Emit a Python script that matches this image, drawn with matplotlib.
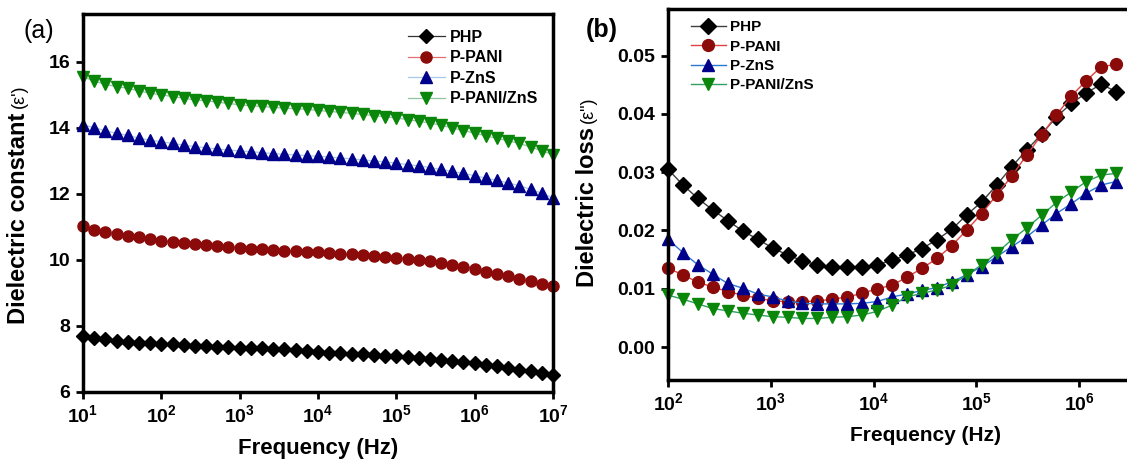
import numpy as np
import matplotlib
matplotlib.use("Agg")
import matplotlib.pyplot as plt

plt.rcParams['font.family'] = ['Liberation Sans', 'DejaVu Sans']
plt.rcParams['font.weight'] = 'bold'
plt.rcParams['mathtext.fontset'] = 'custom'
plt.rcParams['mathtext.rm'] = 'Liberation Sans:bold'
plt.rcParams['mathtext.it'] = 'Liberation Sans:bold'
plt.rcParams['mathtext.bf'] = 'Liberation Sans:bold'
plt.rcParams['mathtext.default'] = 'rm'

# ---- data (a): dielectric constant, 43 points 10 Hz .. 10 MHz
freq_a = np.logspace(1, 7, 43)
php_a = [7.70, 7.65, 7.60, 7.55, 7.52, 7.49, 7.47, 7.45, 7.44, 7.42, 7.40, 7.39, 7.37, 7.35,
         7.34, 7.33, 7.32, 7.30, 7.29, 7.27, 7.23, 7.21, 7.19, 7.17, 7.15, 7.14, 7.12, 7.10,
         7.08, 7.06, 7.03, 7.00, 6.97, 6.94, 6.91, 6.88, 6.83, 6.78, 6.73, 6.68, 6.63, 6.59, 6.53]
ppani_a = [11.03, 10.91, 10.84, 10.79, 10.73, 10.68, 10.63, 10.58, 10.55, 10.51, 10.48, 10.45,
           10.43, 10.40, 10.37, 10.34, 10.32, 10.30, 10.28, 10.26, 10.25, 10.23, 10.21, 10.19,
           10.17, 10.15, 10.12, 10.09, 10.07, 10.04, 10.00, 9.96, 9.91, 9.86, 9.80, 9.73, 9.65,
           9.57, 9.50, 9.42, 9.35, 9.28, 9.21]
pzns_a = [14.09, 14.01, 13.91, 13.84, 13.77, 13.69, 13.63, 13.58, 13.53, 13.48, 13.43, 13.40,
          13.36, 13.33, 13.30, 13.28, 13.25, 13.22, 13.20, 13.18, 13.16, 13.14, 13.12, 13.09,
          13.06, 13.03, 13.00, 12.97, 12.93, 12.89, 12.85, 12.80, 12.74, 12.68, 12.62, 12.55,
          12.48, 12.41, 12.33, 12.25, 12.14, 12.02, 11.88]
ppanizns_a = [15.55, 15.42, 15.32, 15.25, 15.20, 15.12, 15.05, 15.00, 14.95, 14.90, 14.85,
              14.82, 14.78, 14.74, 14.70, 14.67, 14.65, 14.62, 14.60, 14.58, 14.56, 14.53,
              14.50, 14.47, 14.44, 14.41, 14.37, 14.34, 14.30, 14.25, 14.20, 14.15, 14.08,
              14.00, 13.92, 13.84, 13.76, 13.68, 13.61, 13.53, 13.42, 13.31, 13.18]

# ---- data (b): dielectric loss, 31 points from 100 Hz
freq_b = np.logspace(2, 6.36, 31)
php_b = [0.0305, 0.0278, 0.0255, 0.0235, 0.0217, 0.0199, 0.0185, 0.0170, 0.0158, 0.0148,
         0.0141, 0.0138, 0.0137, 0.0138, 0.0141, 0.0149, 0.0158, 0.0169, 0.0184, 0.0202,
         0.0227, 0.0249, 0.0278, 0.0309, 0.0338, 0.0365, 0.0395, 0.0418, 0.0436, 0.0451, 0.0438]
ppani_b = [0.0135, 0.0124, 0.0111, 0.0103, 0.0095, 0.0089, 0.0084, 0.0079, 0.0078, 0.0078,
           0.0079, 0.0082, 0.0086, 0.0092, 0.0100, 0.0106, 0.0120, 0.0135, 0.0152, 0.0174,
           0.0201, 0.0229, 0.0261, 0.0293, 0.0329, 0.0364, 0.0398, 0.0431, 0.0457, 0.0481, 0.0485]
pzns_b = [0.0185, 0.0162, 0.0141, 0.0125, 0.0109, 0.0101, 0.0091, 0.0086, 0.0079, 0.0075,
          0.0074, 0.0074, 0.0074, 0.0075, 0.0078, 0.0086, 0.0091, 0.0097, 0.0102, 0.0112,
          0.0124, 0.0138, 0.0155, 0.0172, 0.0189, 0.0209, 0.0229, 0.0246, 0.0264, 0.0278, 0.0284]
ppanizns_b = [0.0089, 0.0082, 0.0074, 0.0066, 0.0062, 0.0058, 0.0055, 0.0052, 0.0051, 0.0049,
              0.0049, 0.0051, 0.0052, 0.0055, 0.0061, 0.0072, 0.0086, 0.0092, 0.0098, 0.0106,
              0.0124, 0.0141, 0.0161, 0.0184, 0.0204, 0.0226, 0.0248, 0.0266, 0.0284, 0.0295, 0.0298]

labels = ['PHP', 'P-PANI', 'P-ZnS', 'P-PANI/ZnS']
markers = ['D', 'o', '^', 'v']
mcolors = ['#000000', '#8b0a0a', '#00008b', '#0a870a']
lcolors_a = ['#333333', '#e07070', '#a8c8ea', '#90c4a0']
lcolors_b = ['#404040', '#e04040', '#2a78d0', '#30a060']

W, H = 1127, 467
fig = plt.figure(figsize=(W / 100, H / 100), dpi=100)
ax1 = fig.add_axes([83 / W, (H - 392) / H, 470 / W, 378 / H])
ax2 = fig.add_axes([668 / W, (H - 380) / H, 514 / W, 371 / H])

for ys, lab, m, mc, lc in zip([php_a, ppani_a, pzns_a, ppanizns_a], labels, markers, mcolors, lcolors_a):
    ax1.plot(freq_a, ys, marker=m, color=lc, mfc=mc, mec=mc, lw=0.9,
             ms=8 if m != 'D' else 7.5, label=lab, clip_on=False)
for ys, lab, m, mc, lc in zip([php_b, ppani_b, pzns_b, ppanizns_b], labels, markers, mcolors, lcolors_b):
    ax2.plot(freq_b, ys, marker=m, color=lc, mfc=mc, mec=mc, lw=1.0,
             ms=8.5 if m != 'D' else 8, label=lab, clip_on=False)

for ax in (ax1, ax2):
    ax.set_xscale('log')
    for s in ax.spines.values():
        s.set_linewidth(2.5)
    ax.tick_params(which='major', direction='out', length=5, width=2, labelsize=14, pad=4)
    ax.tick_params(which='minor', length=0)
    ax.set_xlabel('Frequency (Hz)', fontsize=16, fontweight='bold', labelpad=8)

ax1.set_xlim(10, 1e7)
ax1.set_ylim(6, 17.45)
ax1.set_xticks([10.0 ** k for k in range(1, 8)])
ax1.set_xticklabels([r'$10^{%d}$' % k for k in range(1, 8)])
ax1.set_yticks([6, 8, 10, 12, 14, 16])

# right panel runs past the picture's edge, as in the cropped original
ax2.set_xlim(100, 1e7)
ax2.set_ylim(-0.00566, 0.058)
ax2.set_xticks([10.0 ** k for k in range(2, 7)])
ax2.set_xticklabels([r'$10^{%d}$' % k for k in range(2, 7)])
ax2.set_yticks([0.0, 0.01, 0.02, 0.03, 0.04, 0.05])
ax2.set_yticklabels(['0.00', '0.01', '0.02', '0.03', '0.04', '0.05'])
ax2.xaxis.label.set_size(15)

# y labels: bold words + lighter symbol part
ax1.text(-0.138, 0.738, 'Dielectric constant', transform=ax1.transAxes, rotation=90,
         ha='center', va='top', fontsize=17, fontweight='bold')
ax1.text(-0.136, 0.750, "(ε')", transform=ax1.transAxes, rotation=90,
         ha='center', va='bottom', fontsize=13, fontweight='normal')
ax2.text(-0.156, 0.682, 'Dielectric loss', transform=ax2.transAxes, rotation=90,
         ha='center', va='top', fontsize=17, fontweight='bold')
ax2.text(-0.154, 0.694, '(ε")', transform=ax2.transAxes, rotation=90,
         ha='center', va='bottom', fontsize=13, fontweight='normal')

ax1.legend(loc='upper left', bbox_to_anchor=(0.674, 0.98), frameon=False,
           borderpad=0, handlelength=2.3, handletextpad=0.35, labelspacing=0.35,
           prop={'weight': 'bold', 'size': 11.5})
ax2.legend(loc='upper left', bbox_to_anchor=(0.029, 0.99), frameon=False,
           borderpad=0, handlelength=2.3, handletextpad=0.3, labelspacing=0.35,
           prop={'weight': 'bold', 'size': 11})

fig.text(39 / W, 1 - 31 / H, '(a)', ha='center', va='center', fontsize=18, fontweight='normal')
fig.text(602 / W, 1 - 30 / H, '(b)', ha='center', va='center', fontsize=18, fontweight='bold')

fig.savefig('out.png', dpi=100)
